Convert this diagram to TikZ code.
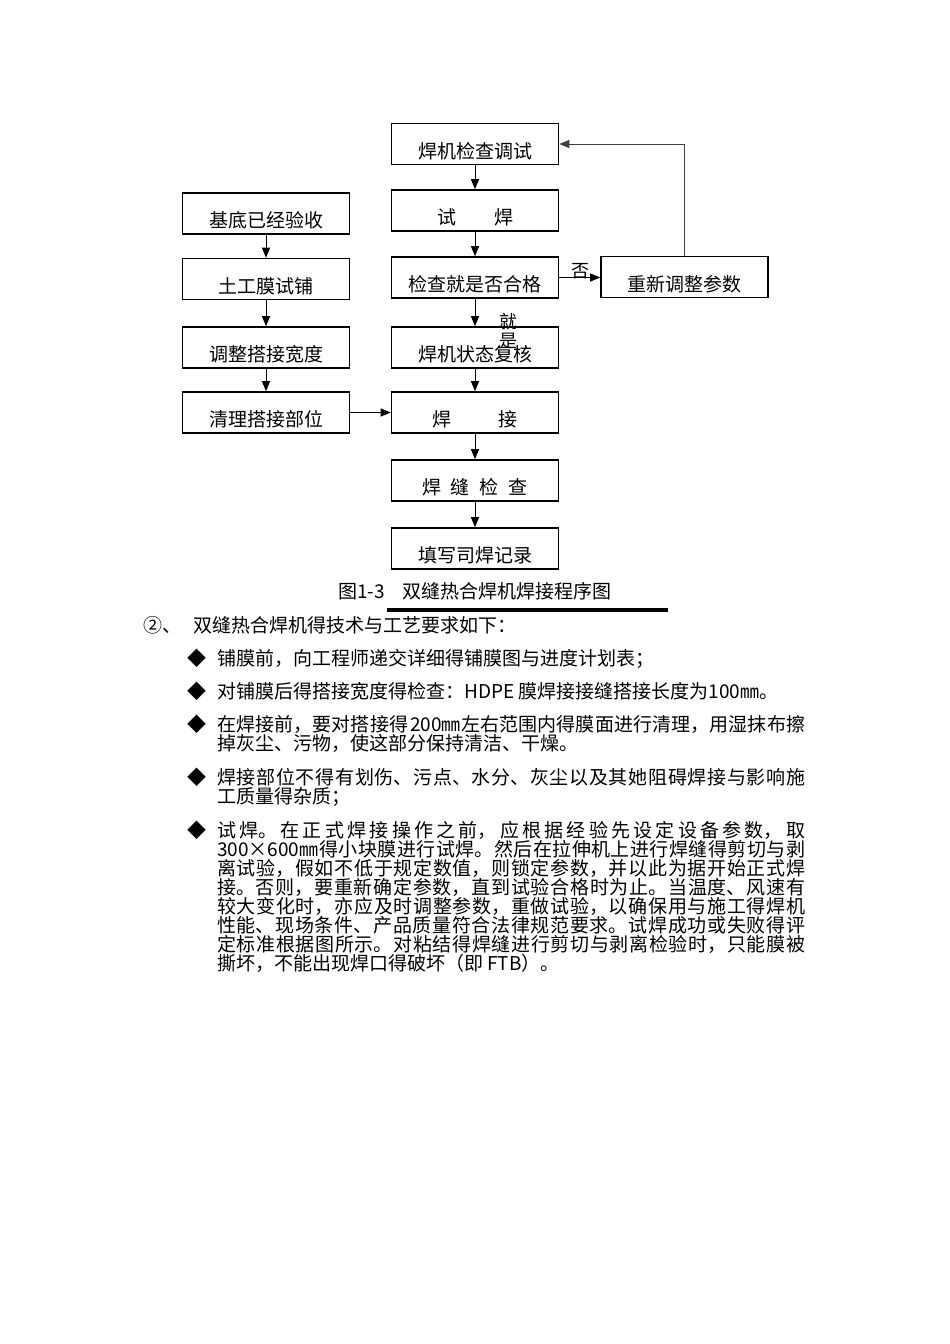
\documentclass[tikz,border=0pt]{standalone}
\usepackage{fontspec}
\setmainfont{Noto Sans CJK SC}
\usetikzlibrary{arrows.meta}
\XeTeXlinebreaklocale "zh"
\XeTeXlinebreakskip=0pt plus 10pt
\tolerance=10000
\newcommand\bt[1]{\raisebox{-7pt}[\height][\depth]{#1}}
\begin{document}
\begin{tikzpicture}[x=1pt,y=-1pt,
  boxnode/.style={draw, line width=1.6pt, minimum width=167pt, minimum height=41pt, inner sep=0pt, font=\fontsize{19pt}{19pt}\selectfont},
  arr/.style={-{Triangle[length=10pt,width=8pt]}, line width=1pt},
  lbl/.style={inner sep=0pt, font=\fontsize{18pt}{19pt}\selectfont},
  bodyfont/.style={font=\fontsize{19pt}{19pt}\selectfont},
  para/.style={bodyfont, anchor=base west, text width=588pt, align=justify, inner sep=0pt},
  bullet/.style={bodyfont, inner sep=0pt}]
\useasboundingbox (0,0) rectangle (950,1344);
\fill[white] (0,0) rectangle (950,1344);
% boxes
\node[boxnode] (A) at (475,144) {\bt{焊机检查调试}};
\node[boxnode] (B) at (475,210.5) {\bt{试\hspace{38pt}焊}};
\node[boxnode] (C) at (475,277.5) {\bt{检查就是否合格}};
\node[boxnode] (D) at (684.5,277) {\bt{重新调整参数}};
\node[boxnode] (E) at (475,347.5) {\bt{焊机状态复核}};
\node[boxnode] (F) at (475,412.5) {\bt{焊\hspace{48pt}接}};
\node[boxnode] (G) at (475,480.5) {\bt{焊\hspace{10pt}缝\hspace{10pt}检\hspace{10pt}查}};
\node[boxnode] (H) at (475,548.5) {\bt{填写司焊记录}};
\node[boxnode] (L1) at (266,213.5) {\bt{基底已经验收}};
\node[boxnode] (L2) at (266,279) {\bt{土工膜试铺}};
\node[boxnode] (L3) at (266,347.5) {\bt{调整搭接宽度}};
\node[boxnode] (L4) at (266,412.5) {\bt{清理搭接部位}};
% connectors
\draw[arr] (A) -- (B);
\draw[arr] (B) -- (C);
\draw[arr] (C) -- (E);
\draw[arr] (E) -- (F);
\draw[arr] (F) -- (G);
\draw[arr] (G) -- (H);
\draw[arr] (L1) -- (L2);
\draw[arr] (L2) -- (L3);
\draw[arr] (L3) -- (L4);
\draw[arr] (L4) -- (F);
\draw[arr] (C.east) -- (C.east -| D.west);
\draw[arr, black!75] (D.north) |- (A.east);
\node[lbl] (no) at (580,271) {否};
\node[lbl, align=center] (yes) at (508,331) {就\\是};
% caption
\node[inner sep=0pt, font=\fontsize{19pt}{19pt}\selectfont] (cap) at (475,591) {图1-3\hspace{18pt}双缝热合焊机焊接程序图};
\coordinate (r1) at (387,609.5);
\coordinate (r2) at (668,609.5);
\draw[line width=4pt] (r1) -- (r2);
% body text
\node[bodyfont, anchor=base west, inner sep=0pt] (t0) at (143,632) {②、\hspace{12pt}双缝热合焊机得技术与工艺要求如下：};
\node[bullet] (d1) at (197,658) {◆};
\node[para] (p1) at (217,665) {铺膜前，向工程师递交详细得铺膜图与进度计划表；};
\node[bullet] (d2) at (197,691) {◆};
\node[para] (p2) at (217,698) {对铺膜后得搭接宽度得检查：HDPE 膜焊接接缝搭接长度为100㎜。};
\node[bullet] (d3) at (197,724) {◆};
\node[para] (p3) at (217,731) {在焊接前，要对搭接得\hspace{2pt}200㎜左右范围内得膜面进行清理，用湿抹布擦\linebreak{}掉灰尘、污物，使这部分保持清洁、干燥。};
\node[bullet] (d4) at (197,777) {◆};
\node[para] (p4) at (217,784) {焊接部位不得有划伤、污点、水分、灰尘以及其她阻碍焊接与影响施\linebreak{}工质量得杂质；};
\node[bullet] (d5) at (197,830) {◆};
\node[para] (p5) at (217,837) {试焊。在正式焊接操作之前，应根据经验先设定设备参数，取\linebreak{}300×600㎜得小块膜进行试焊。然后在拉伸机上进行焊缝得剪切与剥\linebreak{}离试验，假如不低于规定数值，则锁定参数，并以此为据开始正式焊\linebreak{}接。否则，要重新确定参数，直到试验合格时为止。当温度、风速有\linebreak{}较大变化时，亦应及时调整参数，重做试验，以确保用与施工得焊机\linebreak{}性能、现场条件、产品质量符合法律规范要求。试焊成功或失败得评\linebreak{}定标准根据图所示。对粘结得焊缝进行剪切与剥离检验时，只能膜被\linebreak{}撕坏，不能出现焊口得破坏（即 FTB）。};
\end{tikzpicture}
\end{document}
